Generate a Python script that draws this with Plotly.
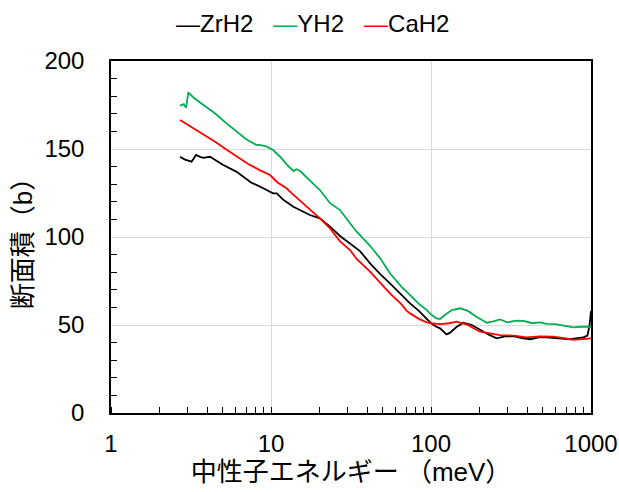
import plotly.graph_objects as go

zr_x = [2.7, 2.9, 3.19, 3.4, 3.6, 3.78, 4.16, 5, 6.1, 7.5, 8.95, 10.3, 10.85, 12, 13.8, 17.5, 20.2,
        23.4, 27, 31.2, 36, 41.6, 48, 55.4, 64, 74, 84, 94, 100, 108, 114, 125, 131, 145, 159, 180,
        202, 230, 257, 290, 327, 370, 416, 470, 528, 600, 740, 895, 950, 980, 1000]
zr_y = [145.6, 144, 142.8, 146.6, 145.5, 145, 145.6, 141, 137, 131, 127.7, 124.8, 124.8, 121, 117.2,
        112.5, 110.6, 105.9, 100.6, 96.4, 92, 85, 79, 73.7, 68, 62.3, 58, 53.8, 51, 49, 48.1, 44.7,
        45.5, 49, 51.3, 50, 47.2, 44.5, 42.4, 43.5, 43.7, 42.5, 41.9, 43, 43, 42.5, 41.9, 43, 44, 50, 58]

y_x = [2.7, 2.85, 2.95, 3.04, 3.3, 3.78, 4.5, 5.2, 6.1, 7.0, 8.1, 8.5, 9.4, 10.3, 11.4, 12.6, 13.8,
       14.4, 15.2, 17.5, 20.2, 23.4, 27, 31.2, 34.3, 41.6, 48, 55.4, 65, 74, 84, 94, 100, 108, 114,
       122, 135, 152, 170, 190, 223, 245, 270, 300, 340, 378, 430, 480, 528, 600, 680, 775, 870, 976, 1000]
y_y = [174.6, 175.5, 173.5, 182.2, 179, 175, 170, 165, 159.8, 155.5, 152.3, 152.3, 151.3, 149.4, 145.6,
       141, 137.5, 138.5, 137.5, 132, 126.7, 119.2, 115.3, 107.8, 103, 95, 88, 79.4, 72, 67, 62, 58.5,
       56, 53.8, 53.4, 55.7, 58.5, 59.5, 58, 55, 51.3, 52, 53.2, 51.5, 52.5, 52.3, 51, 51.5, 50.6, 50.5,
       49.5, 48.7, 49, 48.7, 49]

ca_x = [2.7, 3.0, 3.78, 4.5, 5.2, 6.1, 7.2, 8.5, 9.86, 11, 12.5, 13.5, 15.9, 18, 20.2, 23.4, 27, 31.2,
        34.3, 41.6, 48, 55.4, 65, 70.5, 74, 84, 94, 100, 114, 130, 145, 170, 202, 230, 270, 330, 396,
        480, 582, 680, 775, 880, 1000]
ca_y = [166.5, 164, 158.3, 154, 150, 145.6, 141.5, 138, 135.2, 131, 127.7, 124.8, 119.2, 114.5, 110.6,
        104.9, 97.5, 92.6, 87.5, 80.3, 74, 68, 62, 58, 56.6, 53.5, 51.5, 51, 50.5, 51, 51.9, 50, 46.2,
        45.5, 44.3, 44, 43, 43.5, 43.4, 42.5, 41.5, 42, 42.4]

names = ["ZrH2", "YH2", "CaH2"]
colors = ["#000000", "#00b050", "#ff0000"]

x_tickvals = [1, 10, 100, 1000]
x_ticktext = ["1", "10", "100", "1000"]
x_title = "中性子エネルギー （meV）"
y_title = "断面積（b）"

FONT = "Liberation Sans, Arial, Noto Sans CJK JP"

fig = go.Figure()
for nm, xs, ys, c in zip(names, [zr_x, y_x, ca_x], [zr_y, y_y, ca_y], colors):
    fig.add_trace(go.Scatter(x=xs, y=ys, mode="lines", name=nm,
                             line=dict(color=c, width=1.8)))

# legend drawn as text with coloured dashes, like the reference
legend_text = "&nbsp;&nbsp;&nbsp;".join(
    f"<span style='color:{c}'>—</span>{nm}" for nm, c in zip(names, colors))

fig.update_layout(
    width=619, height=492,
    margin=dict(l=111, r=28, t=61, b=79),
    paper_bgcolor="white", plot_bgcolor="white",
    font=dict(family=FONT, size=24, color="#000000"),
    showlegend=False,
    annotations=[dict(text=legend_text, xref="paper", yref="paper",
                      x=0.42, y=1.0, yshift=38, xanchor="center", yanchor="middle",
                      showarrow=False, font=dict(size=24, family=FONT, color="#000000"))],
)

fig.update_xaxes(
    type="log", range=[0, 3], automargin=False,
    tickvals=x_tickvals, ticktext=x_ticktext,
    ticks="", showline=True, linecolor="#000000", linewidth=1.5, mirror=True,
    showgrid=True, gridcolor="#d9d9d9", gridwidth=1,
    tickfont=dict(size=24, family=FONT), ticklabelstandoff=8,
    title=dict(text=x_title, font=dict(size=26, family=FONT), standoff=5),
    minor=dict(ticks="inside", ticklen=6, tickcolor="#000000", dtick="D1", showgrid=False),
    zeroline=False,
)
fig.update_yaxes(
    range=[0, 200], dtick=50, automargin=False,
    ticks="", showline=True, linecolor="#000000", linewidth=1.5, mirror=True,
    showgrid=True, gridcolor="#d9d9d9", gridwidth=1,
    tickfont=dict(size=24, family=FONT), ticklabelstandoff=20,
    title=dict(text=y_title, font=dict(size=26, family=FONT), standoff=4),
    minor=dict(ticks="inside", ticklen=6, tickcolor="#000000", dtick=10, showgrid=False),
    zeroline=False,
)

fig.write_html("out.html")
